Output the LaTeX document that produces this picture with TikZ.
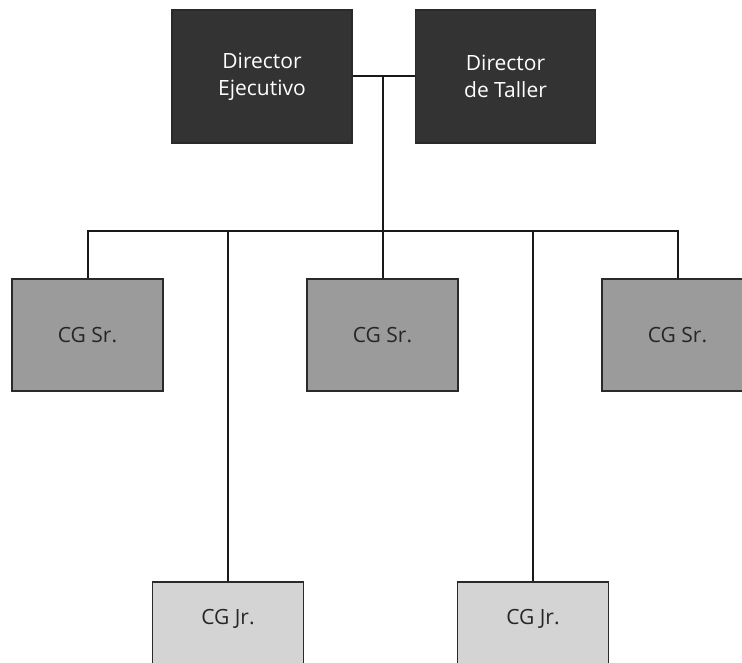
\documentclass[tikz,border=0pt]{standalone}
\usepackage{fontspec}
\setmainfont{Open Sans}
\definecolor{dark}{HTML}{333333}
\definecolor{mid}{HTML}{9B9B9B}
\definecolor{light}{HTML}{D4D4D4}
\definecolor{edge}{HTML}{2A2A2A}
\begin{document}
\begin{tikzpicture}[x=1pt,y=-1pt,
  box/.style={draw=edge,line width=1.4pt,inner sep=0pt,align=center,font=\fontsize{21}{27}\selectfont},
  dirbox/.style={box,fill=dark,text=white,minimum width=180pt,minimum height=133pt},
  srbox/.style={box,fill=mid,text=black!85,minimum width=151pt,minimum height=112pt},
  jrbox/.style={box,fill=light,text=black!85,minimum width=151pt,minimum height=112pt},
  link/.style={draw=black!90,line width=2pt}]
\clip (0,0) rectangle (742,663);
\fill[white] (0,0) rectangle (742,663);
\node[dirbox] (de) at (262,76.5) {Director\\Ejecutivo};
\node[dirbox] (dt) at (505.5,76.5) {Director\\de Taller};
\node[srbox] (s1) at (87.5,335) {CG Sr.};
\node[srbox] (s2) at (382.5,335) {CG Sr.};
\node[srbox] (s3) at (677.5,335) {CG Sr.};
\node[jrbox] (j1) at (228,638) {\raisebox{14pt}[0pt][0pt]{CG Jr.}};
\node[jrbox] (j2) at (533,638) {\raisebox{14pt}[0pt][0pt]{CG Jr.}};
\coordinate (m) at (383,76.5);
\coordinate (bus) at (383,231);
\path[link] (de.east) -- (dt.west);
\path[link] (m) -- (bus);
\path[link] (s1.north) -- (s1.north |- bus) -- (s3.north |- bus) -- (s3.north);
\path[link] (s2.north) -- (s2.north |- bus);
\path[link] (j1.north) -- (j1.north |- bus);
\path[link] (j2.north) -- (j2.north |- bus);
\end{tikzpicture}
\end{document}
